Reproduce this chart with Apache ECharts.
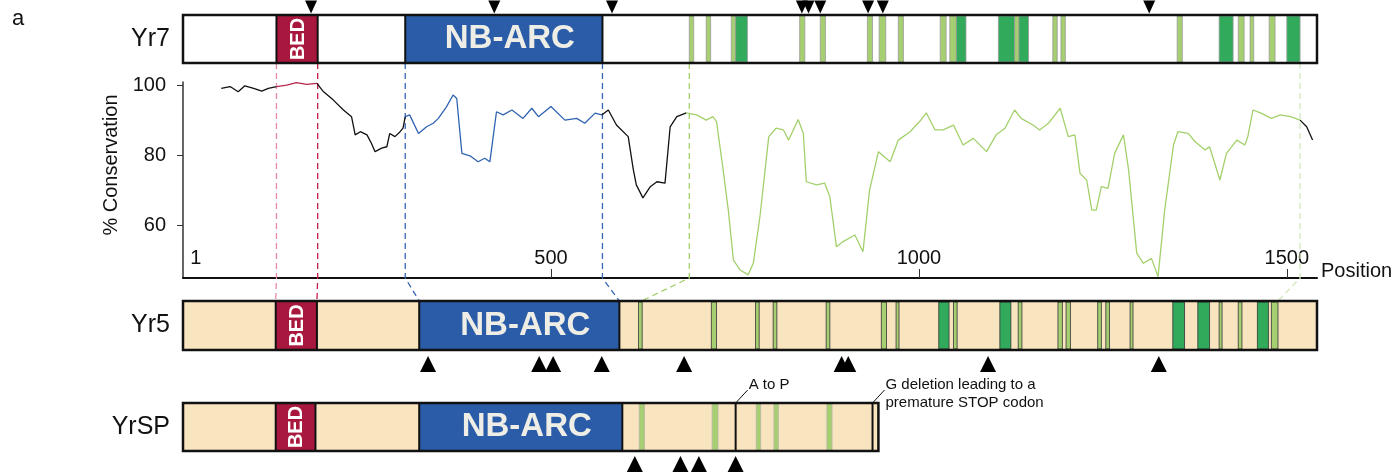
<!DOCTYPE html>
<html>
<head>
<meta charset="utf-8">
<script src="https://cdn.jsdelivr.net/npm/echarts@6/dist/echarts.min.js"></script>
<style>
html, body { margin: 0; padding: 0; background: #fff; }
#chart { width: 1398px; height: 473px; }
</style>
</head>
<body>
<div id="chart"></div>
<script>
// values, in alignment positions
var proteins = ['Yr7', 'Yr5', 'YrSP'];
var proteinLength = [1541, 1541, 945];
var bedDomain = [[127, 183], [126, 182], [126, 180]];
var nbarcDomain = [[302, 570], [321, 593], [321, 597]];
var lrrRegion = [[688, 1518], [623, 1488], [620, 945]];

var yr7Light = [[688, 694], [711, 717], [745, 751], [838, 845], [866, 873], [930, 937], [946, 955], [972, 979],
    [1029, 1037], [1042, 1051], [1130, 1136], [1182, 1188], [1193, 1199], [1351, 1358], [1434, 1442],
    [1450, 1455], [1476, 1484]];
var yr7Dark = [[751, 767], [1051, 1064], [1108, 1130], [1136, 1149], [1408, 1427], [1500, 1518]];
var yr5Light = [[619, 624], [718, 725], [778, 783], [802, 807], [874, 879], [949, 956], [969, 973], [1047, 1052],
    [1135, 1140], [1189, 1195], [1200, 1206], [1243, 1248], [1254, 1259], [1287, 1291], [1408, 1412],
    [1434, 1439], [1479, 1488]];
var yr5Dark = [[1027, 1041], [1110, 1125], [1345, 1361], [1379, 1395], [1460, 1475]];
var yrspLight = [[620, 627], [719, 727], [779, 785], [803, 809], [875, 882]];
var yrspMarks = [751, 937];
var yrspNotes = ['A to P', 'G deletion leading to a\npremature STOP codon'];

var yr7Snps = [174, 423, 583, 841, 850, 866, 931, 951, 1313];
var yr5Snps = [333, 484, 503, 569, 681, 895, 904, 1094, 1326];
var yrspSnps = [614, 676, 701, 751];

var conservationPos = [52, 64, 75, 84, 96, 107, 116, 127, 141, 154, 168, 182, 191, 204, 218, 229, 234, 241, 250,
    256, 261, 270, 277, 281, 288, 295, 299, 302, 308, 320, 331, 340, 347, 358, 367, 372, 379, 390, 401, 410, 417,
    426, 435, 447, 462, 474, 483, 500, 519, 535, 546, 560, 569, 578, 589, 605, 612, 616, 625, 635, 644, 655, 662,
    671, 684, 698, 711, 720, 725, 734, 741, 748, 757, 768, 775, 784, 796, 806, 816, 823, 836, 843, 847, 861, 872,
    879, 888, 897, 913, 924, 933, 945, 961, 972, 988, 1001, 1010, 1022, 1033, 1047, 1060, 1074, 1092, 1105, 1117,
    1130, 1139, 1155, 1164, 1176, 1192, 1203, 1212, 1219, 1228, 1235, 1241, 1248, 1257, 1266, 1278, 1285, 1296,
    1305, 1316, 1325, 1334, 1346, 1352, 1366, 1375, 1389, 1395, 1402, 1409, 1418, 1432, 1443, 1447, 1454, 1465,
    1479, 1491, 1505, 1518, 1527, 1535];
var conservationVal = [99.2, 99.7, 98.2, 99.9, 99.2, 98.4, 99.2, 99.7, 100.1, 100.8, 100.3, 100.6, 98.2, 95.9, 93.0,
    91.1, 85.9, 86.8, 85.9, 83.5, 81.1, 82.1, 82.5, 86.3, 85.4, 86.8, 87.8, 91.1, 91.6, 86.3, 88.2, 89.2, 90.6, 93.9,
    97.3, 96.3, 80.6, 79.9, 78.2, 79.2, 78.2, 92.5, 91.6, 93.0, 90.6, 93.5, 91.1, 94.0, 90.1, 90.6, 89.2, 92.1, 91.6,
    93.0, 88.7, 85.4, 75.9, 71.6, 67.9, 71.1, 72.5, 72.1, 88.2, 91.1, 92.2, 91.6, 90.1, 91.1, 89.7, 75.9, 64.4, 50.1,
    47.3, 45.9, 49.2, 62.5, 85.4, 87.8, 87.3, 84.4, 90.3, 86.3, 72.5, 71.6, 72.1, 68.2, 53.9, 55.4, 57.3, 52.5, 70.1,
    81.1, 78.2, 84.4, 86.8, 89.7, 92.2, 87.3, 87.3, 88.7, 83.0, 84.9, 81.1, 85.9, 87.8, 93.0, 90.6, 88.7, 87.3, 89.2,
    93.5, 85.4, 85.9, 74.9, 73.0, 64.4, 64.4, 71.1, 70.6, 80.6, 85.9, 75.9, 52.1, 49.2, 50.6, 45.4, 64.4, 83.0, 86.8,
    86.3, 84.0, 81.6, 82.5, 77.8, 73.0, 80.6, 84.4, 83.0, 85.4, 93.0, 92.1, 90.6, 91.6, 91.1, 90.1, 88.2, 84.4];

var xLabelValues = [1, 500, 1000, 1500];
var yLabelValues = [60, 80, 100];

// layout and styles
var FONT = '"Liberation Sans", Arial, sans-serif';
var plotLeft = 183, plotRight = 81;
var lineTop = 82, lineBottom = 278;
var rowBox = [[15, 63], [301, 350], [403, 451]];
var rowFill = ['#ffffff', '#f9e4c0', '#f9e4c0'];
var stripeEdge = ['#9a9a9a', '#333333', '#b5b5a5'];
var lightGreen = '#a5cf71', darkGreen = '#31aa5c';
var bedRed = '#a8173d', nbBlue = '#2a5ca8';
var segColors = ['#111111', '#b8264c', '#111111', '#2f63b2', '#111111', '#a4d06c', '#111111'];
var connectorColors = ['#e58ba7', '#c41e48', '#3566b5', '#3566b5', '#a4d06c', '#d2e7bd'];

var chart = echarts.init(document.getElementById('chart'));

// conservation line split into coloured stretches
var segments = [
    [0, bedDomain[0][0]], bedDomain[0], [bedDomain[0][1], nbarcDomain[0][0]], nbarcDomain[0],
    [nbarcDomain[0][1], lrrRegion[0][0]], lrrRegion[0], [lrrRegion[0][1], proteinLength[0]]
];
function segmentData(a, b) {
    var out = [];
    for (var i = 0; i < conservationPos.length; i++) {
        var p = conservationPos[i], next = conservationPos[i + 1];
        if ((p >= a && p <= b) || (p < a && next !== undefined && next > a)) {
            out.push([p, conservationVal[i]]);
        }
    }
    return out;
}
var lineSeries = segments.map(function (s, i) {
    return {
        type: 'line', xAxisIndex: 0, yAxisIndex: 0, data: segmentData(s[0], s[1]),
        showSymbol: false, symbol: 'none', z: 4,
        lineStyle: { color: segColors[i], width: 1.3 }
    };
});

// protein diagram pieces: [start, end, row, kind, note]
var lightStripes = [yr7Light, yr5Light, yrspLight];
var darkStripes = [yr7Dark, yr5Dark, []];
var pieces = [];
proteins.forEach(function (n, r) { pieces.push([0, proteinLength[r], r, 0, -1]); });
proteins.forEach(function (n, r) {
    lightStripes[r].forEach(function (s) { pieces.push([s[0], s[1], r, 1, -1]); });
    darkStripes[r].forEach(function (s) { pieces.push([s[0], s[1], r, 2, -1]); });
});
proteins.forEach(function (n, r) {
    pieces.push([bedDomain[r][0], bedDomain[r][1], r, 3, -1]);
    pieces.push([nbarcDomain[r][0], nbarcDomain[r][1], r, 4, -1]);
});
yrspMarks.forEach(function (m, i) { pieces.push([m, m, 2, 5, i]); });
proteins.forEach(function (n, r) { pieces.push([0, proteinLength[r], r, 6, -1]); });

function textStyle(text, font, fill, align, vAlign) {
    return { text: text, font: font, fill: fill, align: align, verticalAlign: vAlign,
        textAlign: align, textVerticalAlign: vAlign };
}

function renderPiece(params, api) {
    var row = api.value(2), kind = api.value(3);
    var box = rowBox[row];
    var a = api.coord([api.value(0), box[0]]);
    var b = api.coord([api.value(1), box[1]]);
    var x = a[0], y = a[1], w = b[0] - a[0], h = b[1] - a[1];
    if (kind === 0) {
        return { type: 'rect', shape: { x: x, y: y, width: w, height: h }, style: { fill: rowFill[row] } };
    }
    if (kind === 1 || kind === 2) {
        return {
            type: 'rect', shape: { x: x, y: y + 1, width: w, height: h - 2 },
            style: { fill: kind === 1 ? lightGreen : darkGreen, stroke: stripeEdge[row], lineWidth: 0.8 }
        };
    }
    if (kind === 3) {
        var bedText = textStyle('BED', 'bold 20px ' + FONT, '#ffffff', 'center', 'middle');
        return { type: 'group', children: [
            { type: 'rect', shape: { x: x, y: y, width: w, height: h }, style: { fill: bedRed, stroke: '#111', lineWidth: 2 } },
            { type: 'text', x: x + w / 2 + 1, y: y + h / 2, rotation: Math.PI / 2, style: bedText }
        ] };
    }
    if (kind === 4) {
        return { type: 'group', children: [
            { type: 'rect', shape: { x: x, y: y, width: w, height: h }, style: { fill: nbBlue, stroke: '#111', lineWidth: 2 } },
            { type: 'text', x: x + w / 2 + 6, y: y + h / 2, style: textStyle('NB-ARC', 'bold 33px ' + FONT, '#eeeee6', 'center', 'middle') }
        ] };
    }
    if (kind === 5) {
        var note = textStyle(yrspNotes[api.value(4)], '15px ' + FONT, '#111', 'left', 'top');
        note.lineHeight = 18;
        return { type: 'group', children: [
            { type: 'line', shape: { x1: x, y1: y, x2: x, y2: y + h }, style: { stroke: '#111', lineWidth: 2 } },
            { type: 'line', shape: { x1: x, y1: y, x2: x + 12, y2: y - 13 }, style: { stroke: '#111', lineWidth: 1 } },
            { type: 'text', x: x + 13, y: y - 27, style: note }
        ] };
    }
    return { type: 'group', children: [
        { type: 'rect', shape: { x: x, y: y, width: w, height: h }, style: { fill: 'none', stroke: '#111', lineWidth: 2.5 } },
        { type: 'text', x: x - 13, y: y + h / 2, style: textStyle(proteins[row], '25px ' + FONT, '#111', 'right', 'middle') }
    ] };
}

// dashed links between Yr7, the conservation plot and Yr5
var connectors = [];
[bedDomain, nbarcDomain, lrrRegion].forEach(function (dom) {
    [0, 1].forEach(function (k) {
        connectors.push({
            coords: [[dom[0][k], rowBox[0][1]], [dom[0][k], lineBottom], [dom[1][k], rowBox[1][0]]],
            lineStyle: { color: connectorColors[connectors.length] }
        });
    });
});

function snpSeries(list, y, size, rotate) {
    return {
        type: 'scatter', xAxisIndex: 1, yAxisIndex: 1, z: 6,
        data: list.map(function (p) { return [p, y]; }),
        symbol: 'triangle', symbolSize: size, symbolRotate: rotate,
        itemStyle: { color: '#000', opacity: 1 }
    };
}

var option = {
    animation: false,
    backgroundColor: '#fff',
    textStyle: { fontFamily: FONT },
    graphic: [
        { type: 'text', left: 12, top: 8, style: { text: 'a', font: '22px ' + FONT, fill: '#111' } }
    ],
    grid: [
        { left: plotLeft, right: plotRight, top: lineTop, bottom: 473 - lineBottom },
        { left: plotLeft, right: plotRight, top: 0, bottom: 0 }
    ],
    xAxis: [
        {
            gridIndex: 0, type: 'value', min: 0, max: proteinLength[0],
            name: 'Position', nameLocation: 'end', nameGap: 4,
            nameTextStyle: { fontSize: 20, color: '#111', verticalAlign: 'bottom', padding: [0, 0, -3, 0] },
            axisLine: { lineStyle: { color: '#111', width: 2 } },
            axisTick: { inside: true, length: 9, customValues: [500, 1000, 1500], lineStyle: { color: '#333', width: 1 } },
            axisLabel: {
                inside: true, margin: 10, fontSize: 20, color: '#111', customValues: xLabelValues,
                formatter: function (v) { return v === 1 ? '{first|1}' : String(v); },
                rich: { first: { fontSize: 20, color: '#111', padding: [0, 0, 0, 24] } }
            },
            splitLine: { show: false }
        },
        { gridIndex: 1, type: 'value', min: 0, max: proteinLength[0], show: false }
    ],
    yAxis: [
        {
            gridIndex: 0, type: 'value', min: 45, max: 101,
            name: '% Conservation', nameLocation: 'middle', nameGap: 56, nameRotate: 90,
            nameTextStyle: { fontSize: 20, color: '#111', padding: [0, 0, 0, 30] },
            axisLine: { show: true, lineStyle: { color: '#333', width: 1.5 } },
            axisTick: { show: true, length: 6, customValues: yLabelValues, lineStyle: { color: '#333' } },
            axisLabel: { fontSize: 20, color: '#111', margin: 17, customValues: yLabelValues },
            splitLine: { show: false }
        },
        { gridIndex: 1, type: 'value', min: 0, max: 473, inverse: true, show: false }
    ],
    series: lineSeries.concat([
        {
            type: 'lines', coordinateSystem: 'cartesian2d', xAxisIndex: 1, yAxisIndex: 1,
            polyline: true, z: 2, data: connectors, silent: true,
            lineStyle: { width: 1.3, type: [6, 4], opacity: 1 }
        },
        {
            type: 'custom', xAxisIndex: 1, yAxisIndex: 1, z: 5, clip: false,
            dimensions: ['start', 'end', 'row', 'kind', 'note'],
            renderItem: renderPiece, data: pieces
        },
        snpSeries(yr7Snps, rowBox[0][0] - 8, [12, 13], 180),
        snpSeries(yr5Snps, rowBox[1][1] + 14, [16, 16], 0),
        snpSeries(yrspSnps, rowBox[2][1] + 13, [16, 16], 0)
    ])
};

chart.setOption(option);
</script>
</body>
</html>
